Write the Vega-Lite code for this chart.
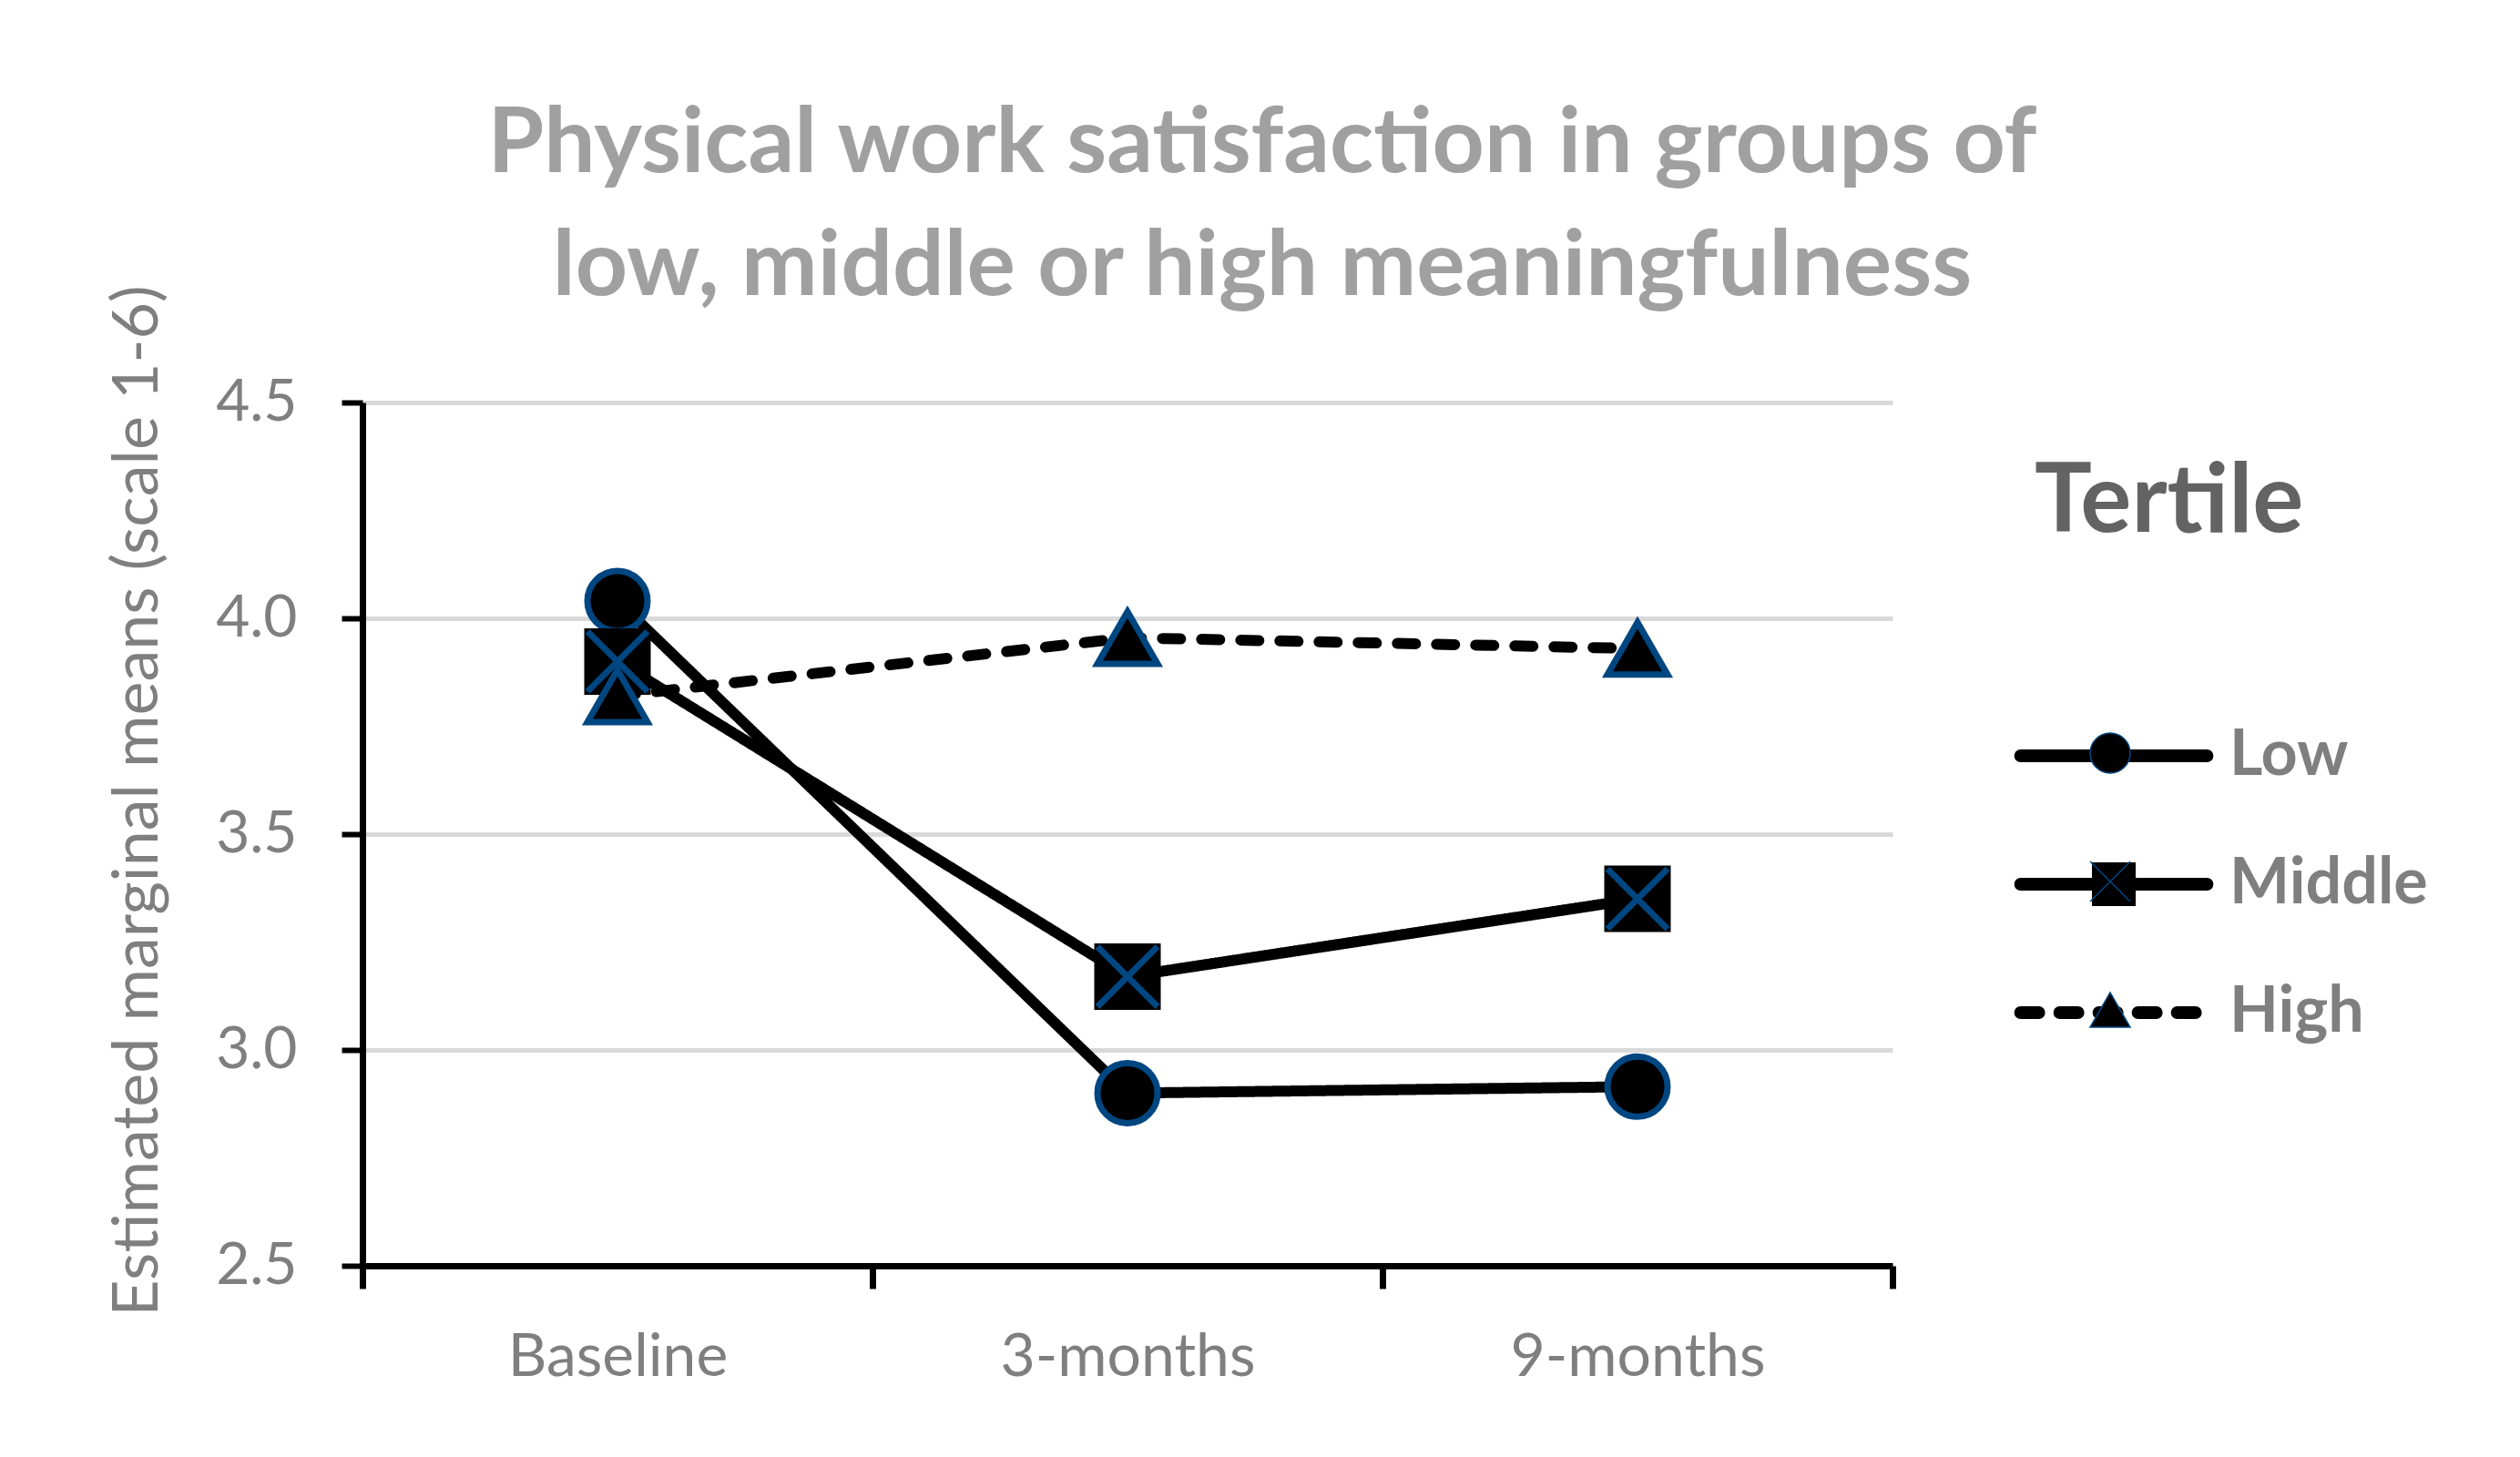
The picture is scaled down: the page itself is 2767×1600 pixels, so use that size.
{
  "$schema": "https://vega.github.io/schema/vega-lite/v6.json",
  "width": 1680,
  "height": 948,
  "autosize": {"type": "none"},
  "padding": {"left": 398, "top": 442, "right": 689, "bottom": 210},
  "background": "white",
  "config": {"view": {"stroke": null}, "font": "Lato"},
  "title": {
    "text": ["Physical work satisfaction in groups of", "low, middle or high meaningfulness"],
    "font": "Lato", "fontSize": 100, "fontWeight": "bold", "color": "#a0a0a0",
    "anchor": "middle", "frame": "group", "dx": 148, "dy": 151, "lineHeight": 135,
    "baseline": "alphabetic", "offset": 40, "limit": 0
  },
  "data": {"values": [
    {"Time": "Baseline", "Tertile": "Low", "Mean": 4.04},
    {"Time": "3-months", "Tertile": "Low", "Mean": 2.90},
    {"Time": "9-months", "Tertile": "Low", "Mean": 2.915},
    {"Time": "Baseline", "Tertile": "Middle", "Mean": 3.90},
    {"Time": "3-months", "Tertile": "Middle", "Mean": 3.17},
    {"Time": "9-months", "Tertile": "Middle", "Mean": 3.35},
    {"Time": "Baseline", "Tertile": "High", "Mean": 3.82},
    {"Time": "3-months", "Tertile": "High", "Mean": 3.955},
    {"Time": "9-months", "Tertile": "High", "Mean": 3.93}
  ]},
  "encoding": {
    "x": {
      "field": "Time", "type": "nominal",
      "scale": {"domain": ["Baseline", "3-months", "9-months"], "paddingInner": 0, "paddingOuter": 0},
      "axis": {
        "title": null, "labelAngle": 0, "labelFont": "Lato", "labelFontSize": 66, "labelColor": "#7f7f7f", "labelLimit": 0,
        "tickBand": "extent", "tickSize": 25, "tickWidth": 7, "tickColor": "black",
        "domainColor": "black", "domainWidth": 7, "labelPadding": 43, "grid": false, "zindex": 2
      }
    },
    "y": {
      "field": "Mean", "type": "quantitative",
      "scale": {"domain": [2.5, 4.5], "nice": false, "zero": false},
      "axis": {
        "values": [2.5, 3, 3.5, 4, 4.5], "format": ".1f",
        "title": "Estimated marginal means (scale 1-6)",
        "titleFont": "Lato", "titleFontSize": 70, "titleFontWeight": "normal", "titleColor": "#7f7f7f", "titleLimit": 0,
        "titleX": -247, "titleY": 437, "titleAngle": -90, "titleAlign": "center", "titleBaseline": "middle",
        "labelFont": "Lato", "labelFontSize": 64, "labelColor": "#7f7f7f", "labelPadding": 49,
        "tickSize": 23, "tickWidth": 6, "tickColor": "black",
        "domainColor": "black", "domainWidth": 7,
        "grid": true, "gridColor": "#d9d9d9", "gridWidth": 5, "zindex": 0
      }
    }
  },
  "resolve": {"scale": {"shape": "independent"}},
  "layer": [
    {
      "mark": {"type": "line", "color": "black", "strokeWidth": 12, "strokeCap": "round", "strokeJoin": "round"},
      "encoding": {
        "strokeDash": {
          "field": "Tertile", "type": "nominal",
          "scale": {"domain": ["Low", "Middle", "High"], "range": [[1, 0], [1, 0], [20, 23]]},
          "legend": {
            "orient": "right", "offset": 156, "zindex": 1,
            "title": "Tertile", "titleFont": "Lato", "titleFontSize": 105, "titleFontWeight": "bold",
            "titleColor": "#636363", "titlePadding": 248, "titleBaseline": "top", "titleLimit": 0,
            "labelFont": "Lato", "labelFontSize": 70, "labelFontWeight": "bold", "labelColor": "#7f7f7f", "labelLimit": 0,
            "labelOffset": 92, "rowPadding": 60, "padding": 0,
            "symbolType": "M-3.9,0H3.9", "symbolSize": 2756, "symbolStrokeWidth": 14, "symbolStrokeColor": "black",
            "encode": {
              "title": {"update": {"dx": {"value": -52}, "dy": {"value": 59}}},
              "symbols": {"update": {
                "shape": {"signal": "datum.value === 'Middle' ? 'M-3.9,0H3.9M-0.648,-0.648H0.648V0.648H-0.648Z' : 'M-3.9,0H3.9'"},
                "fill": {"value": "black"},
                "fillOpacity": {"value": 1},
                "stroke": {"value": "black"},
                "strokeWidth": {"value": 14},
                "strokeCap": {"value": "round"}
              }}
            }
          }
        }
      }
    },
    {
      "mark": {"type": "point", "filled": true, "fill": "black", "opacity": 1, "strokeWidth": 7, "size": 4356, "strokeOpacity": 1, "fillOpacity": 1},
      "encoding": {
        "shape": {
          "field": "Tertile", "type": "nominal",
          "scale": {"domain": ["Low", "Middle", "High"], "range": ["circle", "square", "triangle-up"]},
          "legend": null
        },
        "stroke": {
          "condition": {"test": "datum.Tertile === 'Middle'", "value": "black"},
          "value": "#004680"
        }
      }
    },
    {
      "transform": [{"filter": "datum.Tertile === 'Middle'"}],
      "mark": {"type": "point", "filled": false, "shape": "M-1,-1L1,1M1,-1L-1,1", "stroke": "#004680", "strokeWidth": 7, "size": 4356, "opacity": 1}
    },
    {
      "mark": {"type": "point", "filled": true, "fill": "black", "stroke": "#004680", "opacity": 0, "size": 10},
      "encoding": {
        "shape": {
          "field": "Tertile", "type": "nominal",
          "scale": {"domain": ["Low", "Middle", "High"], "range": ["circle", "M-1,-1L1,1M1,-1L-1,1", "triangle-up"]},
          "legend": {
            "orient": "none", "legendX": 1884, "legendY": 350, "zindex": 2,
            "title": null,
            "labelFont": "Lato", "labelFontSize": 70, "labelFontWeight": "bold", "labelExpr": "''", "labelLimit": 0,
            "rowPadding": 71, "padding": 0, "symbolSize": 1936,
            "encode": {
              "symbols": {"update": {
                "fill": {"value": "black"},
                "fillOpacity": {"value": 1},
                "stroke": {"value": "#004680"},
                "strokeOpacity": {"value": 1},
                "strokeWidth": {"value": 7},
                "opacity": {"value": 1},
                "size": {"signal": "datum.value === 'Middle' ? 1936 : 1764"}
              }}
            }
          }
        }
      }
    }
  ]
}
